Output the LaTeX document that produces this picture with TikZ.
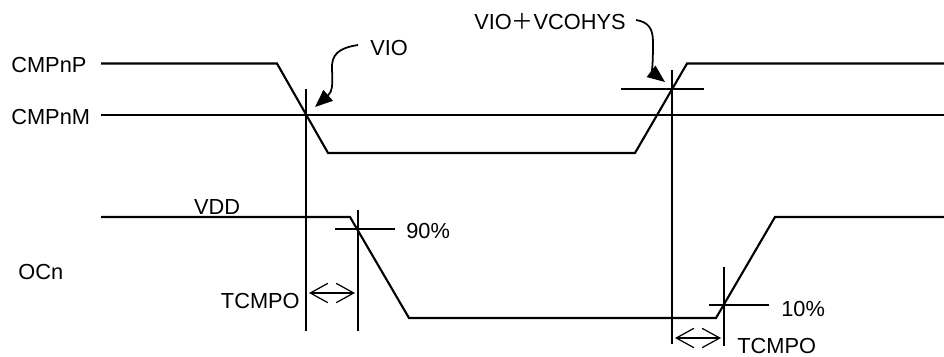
\documentclass[tikz,border=0pt]{standalone}
\usepackage{fontspec}
\setmainfont{Liberation Sans}
\newfontfamily\jpfont{Noto Sans CJK JP}
\usetikzlibrary{arrows.meta}

\begin{document}
\begin{tikzpicture}[x=0.02cm, y=-0.02cm,
  sig/.style={line width=1.2pt, line join=miter},
  guide/.style={line width=0.7pt},
  span/.style={guide, {Straight Barb[length=10pt,width=11pt]}-{Straight Barb[length=10pt,width=11pt]}},
  callout/.style={line width=1pt, -{Triangle[length=10pt,width=8pt]}},
  every node/.style={inner sep=0pt, font=\fontsize{12.4}{15}\selectfont}]
\useasboundingbox (0,0) rectangle (944,356);
% signal names
\node[anchor=west] (cmpp) at (11,65) {CMPnP};
\node[anchor=west] (cmpm) at (11,117) {CMPnM};
\node[anchor=west] (ocn) at (18,272) {OCn};
% waveforms
\draw[sig] (101,63.5) -- (277,63.5) -- (328,153) -- (635,153) -- (687,63.5) -- (944,63.5);
\draw[sig] (101,115) -- (944,115);
\draw[sig] (101,217) -- (350,217) -- (409,318) -- (716,318) -- (775,217) -- (944,217);
\node (vdd) at (217,207) {VDD};
% crossing points
\coordinate (xlo) at (306,115);
\coordinate (xhi) at (672,89);
\coordinate (p90) at (358,229);
\coordinate (p10) at (724,305);
% guide lines
\draw[guide] (306,89) -- (306,331);
\draw[guide] (672,70) -- (672,344);
\draw[guide] (358,210) -- (358,331);
\draw[guide] (724,267) -- (724,346);
\draw[guide] (621,89) -- (704,89);
\draw[guide] (335,229) -- (395,229);
\draw[guide] (709,305) -- (769,305);
% thresholds
\node[anchor=west] (vio) at (370,48) {VIO};
\node[anchor=west] (vhys) at (474,22) {VIO{\jpfont ＋}VCOHYS};
\node[anchor=west] (n90) at (406,231) {90\%};
\node[anchor=west] (n10) at (781,309) {10\%};
\draw[callout] (358,45) .. controls (338,48) and (331,55) .. (332,70)
  .. controls (333,85) and (332,92) .. ([shift={(9,-8)}]xlo);
\draw[callout] (636,20) .. controls (648,22) and (653,28) .. (653,42)
  .. controls (653,65) and (652,72) .. ([shift={(-7,-7)}]xhi);
% delay times
\draw[span] (309,293) -- (355,293);
\draw[span] (675,338) -- (721,338);
\node[anchor=east] (td1) at (300,301) {TCMPO};
\node[anchor=west] (td2) at (737,346) {TCMPO};
\end{tikzpicture}
\end{document}
